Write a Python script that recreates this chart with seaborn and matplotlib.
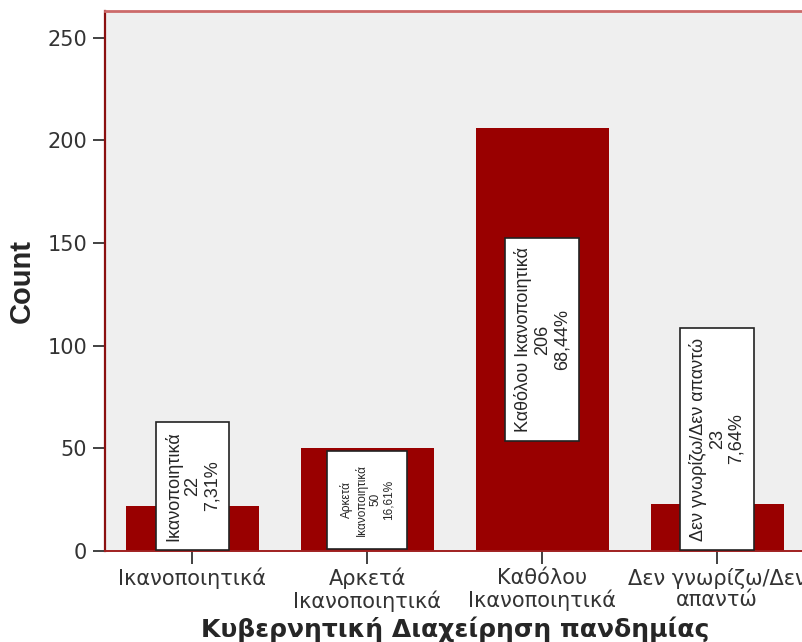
import matplotlib
matplotlib.use('Agg')
import matplotlib.pyplot as plt
import seaborn as sns

categories = ['Ικανοποιητικά', 'Αρκετά\nΙκανοποιητικά', 'Καθόλου\nΙκανοποιητικά', 'Δεν γνωρίζω/Δεν\nαπαντώ']
counts = [22, 50, 206, 23]
box_names = ['Ικανοποιητικά', 'Αρκετά\nΙκανοποιητικά', 'Καθόλου Ικανοποιητικά', 'Δεν γνωρίζω/Δεν απαντώ']
percents = ['7,31%', '16,61%', '68,44%', '7,64%']
yticks = [0, 50, 100, 150, 200, 250]

sns.set_style('ticks')
plt.rcParams['font.family'] = ['DejaVu Sans']
narrow = ['Liberation Sans Narrow', 'Liberation Sans', 'DejaVu Sans']

fig = plt.figure(figsize=(8.03, 6.42), dpi=100)
ax = fig.add_axes([0.1308, 0.1417, 0.8712, 0.8413])
ax.set_facecolor('#efefef')

sns.barplot(x=categories, y=counts, color='#990000', saturation=1, width=0.76, ax=ax)
for p in ax.patches:
    p.set_edgecolor('none')

ax.set_xlim(-0.5, 3.5)
ax.set_ylim(0, 263)
ax.set_yticks(yticks)

# label boxes inside the bars
for i, (v, name, pct) in enumerate(zip(counts, box_names, percents)):
    txt = f'{name}\n{v}\n{pct}'
    small = '\n' in name
    fs = 8.5 if small else 13
    pad = 1.1 if small else 0.5
    bbox = dict(boxstyle=f'square,pad={pad}', fc='white', ec='#222222', lw=1.2)
    if v < 40:
        ax.annotate(txt, xy=(i, 0), xytext=(0, pad * fs + 1), textcoords='offset points',
                    rotation=90, ha='center', va='bottom', fontsize=fs, family=narrow,
                    linespacing=1.15, bbox=bbox)
    else:
        ax.text(i, v / 2, txt, rotation=90, ha='center', va='center', fontsize=fs,
                family=narrow, linespacing=1.15, bbox=bbox)

ax.spines['right'].set_visible(False)
ax.spines['top'].set_color('#cc6a6a')
ax.spines['top'].set_linewidth(2)
ax.spines['left'].set_color('#8b1010')
ax.spines['left'].set_linewidth(1.6)
ax.spines['bottom'].set_color('#a02020')
ax.spines['bottom'].set_linewidth(1.4)

ax.tick_params(axis='both', colors='#333333', length=9, width=1.3, labelsize=15, pad=4)
ax.tick_params(axis='x', pad=3)
for lbl in ax.get_xticklabels():
    lbl.set_linespacing(1.08)
ax.set_ylabel('Count', fontsize=21, fontweight='bold', family=narrow, labelpad=8)
ax.set_xlabel('Κυβερνητική Διαχείρηση πανδημίας', fontsize=18, fontweight='bold', labelpad=3)

fig.savefig('out.png', dpi=100)
